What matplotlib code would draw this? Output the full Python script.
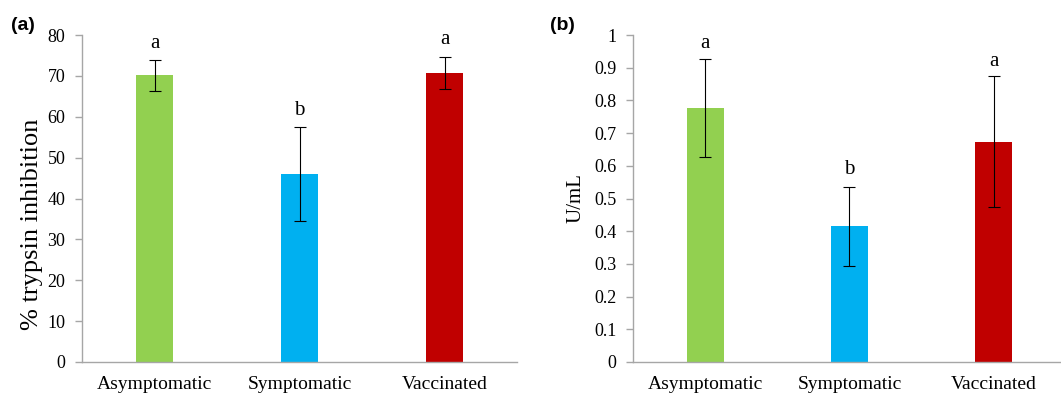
import matplotlib
matplotlib.use("Agg")
import matplotlib.pyplot as plt
import numpy as np

# values
groups = ['Asymptomatic', 'Symptomatic', 'Vaccinated']
colors = ['#92D050', '#00B0F0', '#C00000']

inhib = [70.2, 46.0, 70.7]
inhib_err = [3.8, 11.4, 3.9]
inhib_letters = ['a', 'b', 'a']
inhib_letter_y = [78.0, 61.5, 79.0]

uml = [0.778, 0.415, 0.674]
uml_err = [0.150, 0.121, 0.200]
uml_letters = ['a', 'b', 'a']
uml_letter_y = [0.975, 0.59, 0.92]

serif = 'Liberation Serif'
spine_col = '#A6A6A6'

fig = plt.figure(figsize=(10.61, 3.98), dpi=100)
W, H = 1061.0, 398.0
ax1 = fig.add_axes([82 / W, 36 / H, 435 / W, 327 / H])
ax2 = fig.add_axes([633 / W, 36 / H, 428 / W, 327 / H])


def style(ax, ylim, yticks, ticklabels, ylabel, ylsize, xmax):
    x = np.arange(len(groups))
    ax.set_xlim(-0.5, xmax)
    ax.set_ylim(*ylim)
    ax.set_yticks(yticks)
    ax.set_yticklabels(ticklabels, fontfamily=serif, fontsize=13)
    ax.set_xticks(x)
    ax.set_xticklabels(groups, fontfamily=serif, fontsize=14)
    ax.tick_params(axis='x', length=0, pad=10)
    ax.tick_params(axis='y', length=5, width=1, color=spine_col, direction='out', pad=7)
    for s in ['top', 'right']:
        ax.spines[s].set_visible(False)
    for s in ['left', 'bottom']:
        ax.spines[s].set_color(spine_col)
        ax.spines[s].set_linewidth(1)
    ax.set_ylabel(ylabel, fontfamily=serif, fontsize=ylsize)


x = np.arange(len(groups))
ax1.bar(x, inhib, width=0.255, color=colors, edgecolor='none', zorder=2)
ax1.errorbar(x, inhib, yerr=inhib_err, fmt='none', ecolor='black',
             elinewidth=0.8, capsize=4, capthick=0.8, zorder=3)
for i in range(len(groups)):
    ax1.text(x[i], inhib_letter_y[i], inhib_letters[i], ha='center', va='center',
             fontfamily=serif, fontsize=15)
style(ax1, (0, 80), np.arange(0, 81, 10), [str(v) for v in range(0, 81, 10)],
      '% trypsin inhibition', 19, 2.5)
ax1.yaxis.set_label_coords(-0.09, 0.42)

ax2.bar(x, uml, width=0.255, color=colors, edgecolor='none', zorder=2)
ax2.errorbar(x, uml, yerr=uml_err, fmt='none', ecolor='black',
             elinewidth=0.8, capsize=4, capthick=0.8, zorder=3)
for i in range(len(groups)):
    ax2.text(x[i], uml_letter_y[i], uml_letters[i], ha='center', va='center',
             fontfamily=serif, fontsize=15)
ticks2 = np.round(np.arange(0, 1.01, 0.1), 1)
labels2 = ['0'] + ['%.1f' % v for v in ticks2[1:-1]] + ['1']
style(ax2, (0, 1), ticks2, labels2, 'U/mL', 15, 2.5 - 5 / 145)
ax2.yaxis.set_label_coords(-0.112, 0.5)

fig.text(11 / W, 1 - 25 / H, '(a)', fontsize=14, fontweight='bold',
         fontfamily='Liberation Sans', va='center', ha='left')
fig.text(550 / W, 1 - 25 / H, '(b)', fontsize=14, fontweight='bold',
         fontfamily='Liberation Sans', va='center', ha='left')

fig.savefig('out.png', dpi=100)
